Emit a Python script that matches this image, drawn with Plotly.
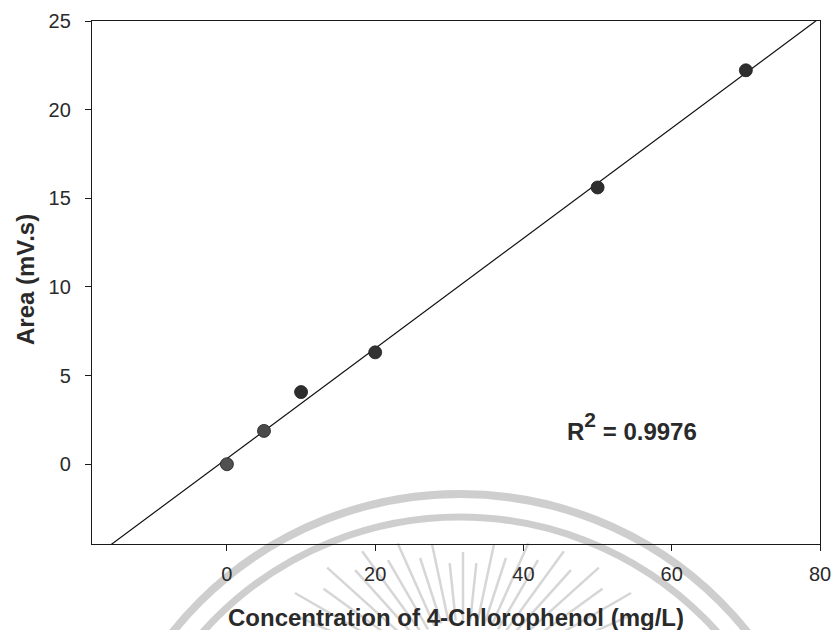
import numpy as np
import plotly.graph_objects as go

# ---- data ----
concentration = [0, 5, 10, 20, 50, 70]          # mg/L
area = [0.0, 1.88, 4.07, 6.31, 15.61, 22.22]     # mV.s
r_squared_text = "0.9976"
x_tick_vals = [0, 20, 40, 60, 80]
y_tick_vals = [0, 5, 10, 15, 20, 25]
x_range = [-18.2, 80]
y_range = [-4.5, 25]

# ---- style ----
marker_colors = ["#505050", "#4a4a4a", "#2e2e2e", "#333333", "#2e2e2e", "#2e2e2e"]
W, H = 832, 630
ML, MR, MT, MB = 92, 12, 21, 86
PW, PH = W - ML - MR, H - MT - MB

# linear fit from the data
slope, intercept = np.polyfit(concentration, area, 1)
fit_x = [x_range[0] - 5, x_range[1] + 5]
fit_y = [slope * v + intercept for v in fit_x]

fig = go.Figure()
fig.add_trace(go.Scatter(x=fit_x, y=fit_y, mode="lines",
                         line=dict(color="#111111", width=1.2),
                         showlegend=False, hoverinfo="skip"))
fig.add_trace(go.Scatter(x=concentration, y=area, mode="markers",
                         marker=dict(size=13, color=marker_colors,
                                     line=dict(color="#1e1e1e", width=0.8)),
                         showlegend=False))

# ---- helpers: page pixel -> paper coords ----
def px(xp):
    return (xp - ML) / PW

def py(yp):
    return (H - MB - yp) / PH

# ---- watermark (decorative) ----
shapes = []
cx, cy = 460, 862
for r, w in [(368, 8), (345, 7)]:
    shapes.append(dict(type="circle", xref="paper", yref="paper",
                       x0=px(cx - r), x1=px(cx + r), y0=py(cy + r), y1=py(cy - r),
                       line=dict(color="rgba(165,165,165,0.55)", width=w),
                       layer="below"))
sx, sy = 463, 690
ray_angles = np.arange(-66, 67, 6)
for i, ang in enumerate(ray_angles):
    a = np.radians(ang)
    r0 = 70
    r1 = 130 + 56 * abs(ang) / 60 + (8 if i % 2 else -8)
    shapes.append(dict(type="line", xref="paper", yref="paper",
                       x0=px(sx + r0 * np.sin(a)), y0=py(sy - r0 * np.cos(a)),
                       x1=px(sx + r1 * np.sin(a)), y1=py(sy - r1 * np.cos(a)),
                       line=dict(color="rgba(165,165,165,0.45)", width=2.5),
                       layer="below"))

axis_common = dict(showline=True, linecolor="#1a1a1a", linewidth=1.3, mirror=True,
                   showgrid=False, zeroline=False, ticks="outside", ticklen=6,
                   tickwidth=1.2, tickcolor="#1a1a1a",
                   tickfont=dict(family="Liberation Sans, Arial", size=20, color="#2a2a2a"))

fig.update_layout(
    width=W, height=H,
    margin=dict(l=ML, r=MR, t=MT, b=MB, autoexpand=False),
    paper_bgcolor="white", plot_bgcolor="rgba(0,0,0,0)",
    xaxis=dict(range=x_range, tickvals=x_tick_vals, ticklabelstandoff=6, **axis_common),
    yaxis=dict(range=y_range, tickvals=y_tick_vals, ticklabelstandoff=10, **axis_common),
    shapes=shapes,
    annotations=[
        dict(text="<b>Concentration of 4-Chlorophenol (mg/L)</b>", xref="paper", yref="paper",
             x=px(456), y=py(617), xanchor="center", yanchor="middle", showarrow=False,
             font=dict(family="Liberation Sans, Arial", size=24, color="#2a2a2a")),
        dict(text="<b>Area (mV.s)</b>", xref="paper", yref="paper",
             x=px(25), y=py(280), xanchor="center", yanchor="middle", showarrow=False,
             textangle=-90,
             font=dict(family="Liberation Sans, Arial", size=24, color="#2a2a2a")),
        dict(text="<b>R<span style=\"font-size:30px\"><sup>2</sup></span> = "
                  + r_squared_text + "</b>", x=54.6, y=2.15,
             xanchor="center", yanchor="middle", showarrow=False,
             font=dict(family="Liberation Sans, Arial", size=24, color="#2a2a2a")),
    ],
)

fig.write_html("out.html",
               config={"displayModeBar": False},
               post_script="document.body.style.margin='0';"
                           "document.body.style.overflow='hidden';"
                           "document.documentElement.style.overflow='hidden';")
